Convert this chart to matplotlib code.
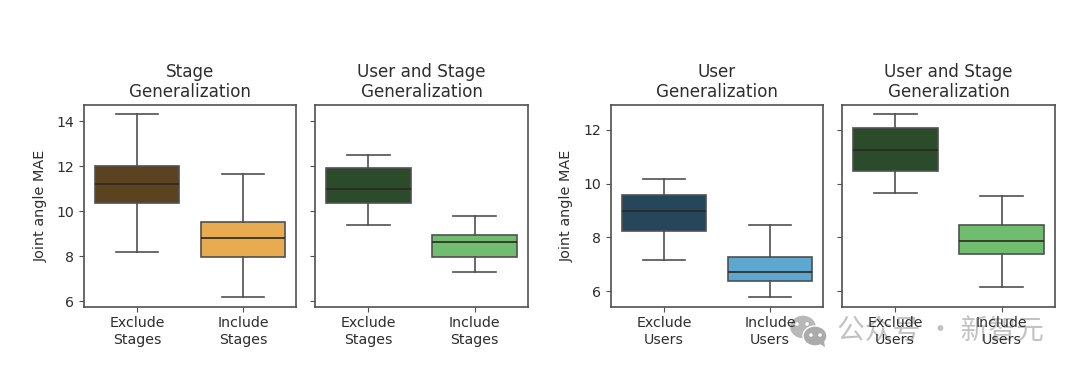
import matplotlib
matplotlib.use("Agg")
import matplotlib.pyplot as plt
from matplotlib.patches import Ellipse, Polygon

plt.rcParams['font.family'] = ['DejaVu Sans', 'Noto Sans CJK SC']

# box stats per panel: whisker low, q1, median, q3, whisker high
stage_only = [[8.2, 10.38, 11.2, 12.0, 14.33], [6.2, 7.95, 8.83, 9.53, 11.67]]
stage_both = [[9.4, 10.37, 10.97, 11.9, 12.5], [7.32, 7.95, 8.65, 8.92, 9.77]]
user_only = [[7.17, 8.24, 8.98, 9.56, 10.18], [5.77, 6.38, 6.7, 7.28, 8.46]]
user_both = [[9.65, 10.47, 11.25, 12.05, 12.6], [6.17, 7.37, 7.85, 8.47, 9.53]]

stage_labels = ["Exclude\nStages", "Include\nStages"]
user_labels = ["Exclude\nUsers", "Include\nUsers"]
titles = ["Stage\nGeneralization", "User and Stage\nGeneralization",
          "User\nGeneralization", "User and Stage\nGeneralization"]

brown_orange = ["#5c4320", "#e8ab50"]
greens = ["#2c4b2b", "#70bd6f"]
blues = ["#26465b", "#5ea8cf"]

W, H = 1080, 375
LINE = "#505050"
MEDIAN = "#2a2a22"
TEXT = "#2e2e2e"


def add_axes_px(x0, x1, y0, y1, **kw):
    return fig.add_axes([x0 / W, 1 - y1 / H, (x1 - x0) / W, (y1 - y0) / H], **kw)


def draw_panel(ax, data, labels, colors, title):
    stats = [dict(whislo=d[0], q1=d[1], med=d[2], q3=d[3], whishi=d[4], fliers=[])
             for d in data]
    line = dict(color=LINE, linewidth=1.2)
    parts = ax.bxp(stats, positions=[0, 1], widths=0.8, patch_artist=True,
                   showfliers=False, boxprops=dict(edgecolor=LINE, linewidth=1.2),
                   medianprops=dict(color=MEDIAN, linewidth=1.2),
                   whiskerprops=line, capprops=line)
    for box, c in zip(parts["boxes"], colors):
        box.set_facecolor(c)
    ax.set_xlim(-0.5, 1.5)
    ax.set_xticks([0, 1])
    ax.set_xticklabels(labels, color=TEXT, fontsize=10.2, linespacing=1.2)
    ax.set_title(title, color=TEXT, fontsize=12.1, pad=6, linespacing=1.12)
    ax.tick_params(colors=LINE, labelcolor=TEXT, labelsize=10.2)
    for s in ax.spines.values():
        s.set_color(LINE)
        s.set_linewidth(1.2)


fig = plt.figure(figsize=(W / 100, H / 100), dpi=100)

ax1 = add_axes_px(84, 296, 105, 306.7)
ax2 = add_axes_px(315, 528, 105, 306.7)
ax3 = add_axes_px(611, 823, 105, 306.7)
ax4 = add_axes_px(842, 1055, 105, 306.7)

draw_panel(ax1, stage_only, stage_labels, brown_orange, titles[0])
draw_panel(ax2, stage_both, stage_labels, greens, titles[1])
draw_panel(ax3, user_only, user_labels, blues, titles[2])
draw_panel(ax4, user_both, user_labels, greens, titles[3])

for ax in (ax1, ax2):
    ax.set_ylim(5.76, 14.71)
    ax.set_yticks([6, 8, 10, 12, 14])
for ax in (ax3, ax4):
    ax.set_ylim(5.42, 12.92)
    ax.set_yticks([6, 8, 10, 12])
for ax in (ax2, ax4):
    ax.tick_params(axis="y", labelleft=False)
ax1.set_ylabel("Joint angle MAE", color=TEXT, fontsize=10.4, labelpad=6)
ax3.set_ylabel("Joint angle MAE", color=TEXT, fontsize=10.4, labelpad=7)

# watermark sits under the tick labels
wm = "#b8b8b8"
fig.text(837 / W, 1 - 332 / H, "公众号 · 新智元", color=wm, alpha=0.85, fontsize=20,
         va="center", ha="left", family=['Noto Sans CJK SC', 'DejaVu Sans'], zorder=-1)
for cx, cy, w, h, c in [(803, 327, 27, 24, wm), (815, 336, 24, 20, "#ababab")]:
    fig.add_artist(Ellipse((cx / W, 1 - cy / H), w / W, h / H, transform=fig.transFigure,
                           facecolor=c, edgecolor="white", linewidth=1, zorder=-1))
for cx, cy in [(797, 324), (807, 324), (811, 335), (820, 335)]:
    fig.add_artist(Ellipse((cx / W, 1 - cy / H), 3.5 / W, 3.5 / H, transform=fig.transFigure,
                           facecolor="white", edgecolor="none", zorder=-1))
fig.add_artist(Polygon([(820 / W, 1 - 344 / H), (825 / W, 1 - 347 / H), (824 / W, 1 - 341 / H)],
                       transform=fig.transFigure, facecolor="#ababab", edgecolor="none", zorder=-1))

fig.savefig("out.png", dpi=100)
